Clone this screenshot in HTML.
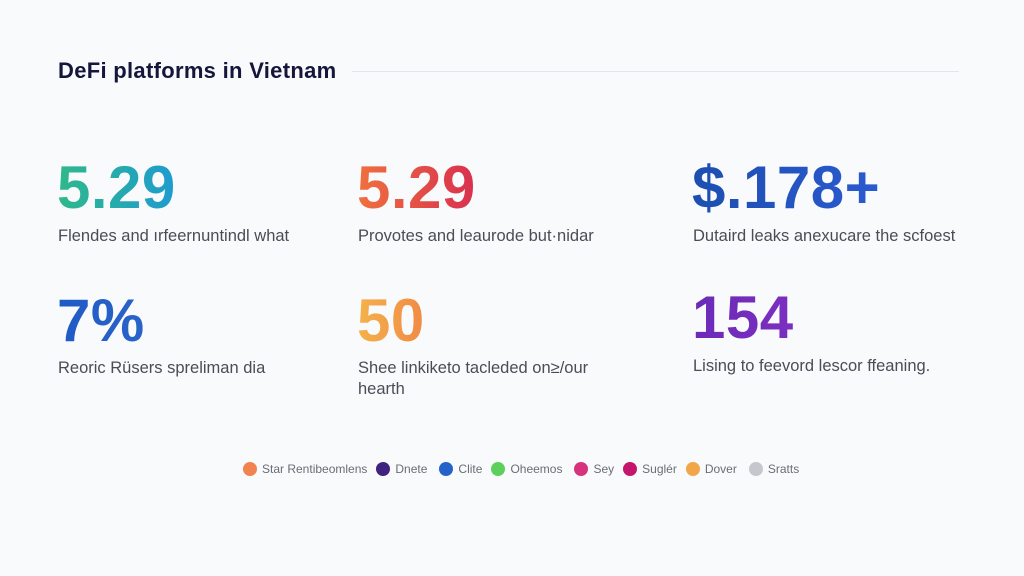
<!DOCTYPE html>
<html><head><meta charset="utf-8"><style>
body{margin:0;width:1024px;height:576px;background:#f9fafb;font-family:"Liberation Sans",sans-serif;position:relative;overflow:hidden}
.t{position:absolute;left:58px;top:58px;font-size:22px;font-weight:bold;color:#14163a;letter-spacing:0.3px}
.line{position:absolute;left:352px;top:71px;width:607px;height:1px;background:#e3e5ea}
.n{position:absolute;font-size:60px;font-weight:bold;line-height:62px;-webkit-background-clip:text;background-clip:text;color:transparent;letter-spacing:0.5px}
.d{position:absolute;font-size:16.5px;color:#4a4d57;line-height:21px;letter-spacing:0}
.lg{position:absolute;top:462px;left:243px;font-size:12px;color:#6a6d75;display:flex;align-items:center;white-space:nowrap}
.lg i{display:inline-block;width:14px;height:14px;border-radius:50%;margin-right:5px;margin-left:9px}
</style></head><body>
<div class="t">DeFi platforms in Vietnam</div><div class="line"></div>
<div class="n" style="left:57px;top:157px;background-image:linear-gradient(90deg,#2fb98a,#1e9bd0)">5.29</div>
<div class="n" style="left:357px;top:157px;background-image:linear-gradient(90deg,#f0703e,#d8304f)">5.29</div>
<div class="n" style="left:692px;top:157px;background-image:linear-gradient(90deg,#1d4fb0,#2a5ad0)">$.178+</div>
<div class="d" style="left:58px;top:226px">Flendes and ırfeernuntindl what</div>
<div class="d" style="left:358px;top:226px">Provotes and leaurode but·nidar</div>
<div class="d" style="left:693px;top:226px">Dutaird leaks anexucare the scfoest</div>
<div class="n" style="left:57px;top:290px;background-image:linear-gradient(90deg,#1f5bc6,#2a63c8)">7%</div>
<div class="n" style="left:357px;top:290px;background-image:linear-gradient(90deg,#f4b24b,#f08a46)">50</div>
<div class="n" style="left:692px;top:287px;background-image:linear-gradient(90deg,#6a2bb8,#7c2ec0)">154</div>
<div class="d" style="left:58px;top:358px">Reoric Rüsers spreliman dia</div>
<div class="d" style="left:358px;top:358px">Shee linkiketo tacleded on≥/our<br>hearth</div>
<div class="d" style="left:693px;top:356px">Lising to feevord lescor ffeaning.</div>
<div class="lg"><i style="background:#f0834f;margin-left:0"></i>Star Rentibeomlens<i style="background:#3f237e"></i>Dnete<i style="background:#2563c9;margin-left:12px"></i>Clite<i style="background:#5dd05c"></i>Oheemos<i style="background:#d6337c;margin-left:12px"></i>Sey<i style="background:#c5166e"></i>Suglér<i style="background:#f2a64a"></i>Dover<i style="background:#c6c7cc;margin-left:12px"></i>Sratts</div>
</body></html>
